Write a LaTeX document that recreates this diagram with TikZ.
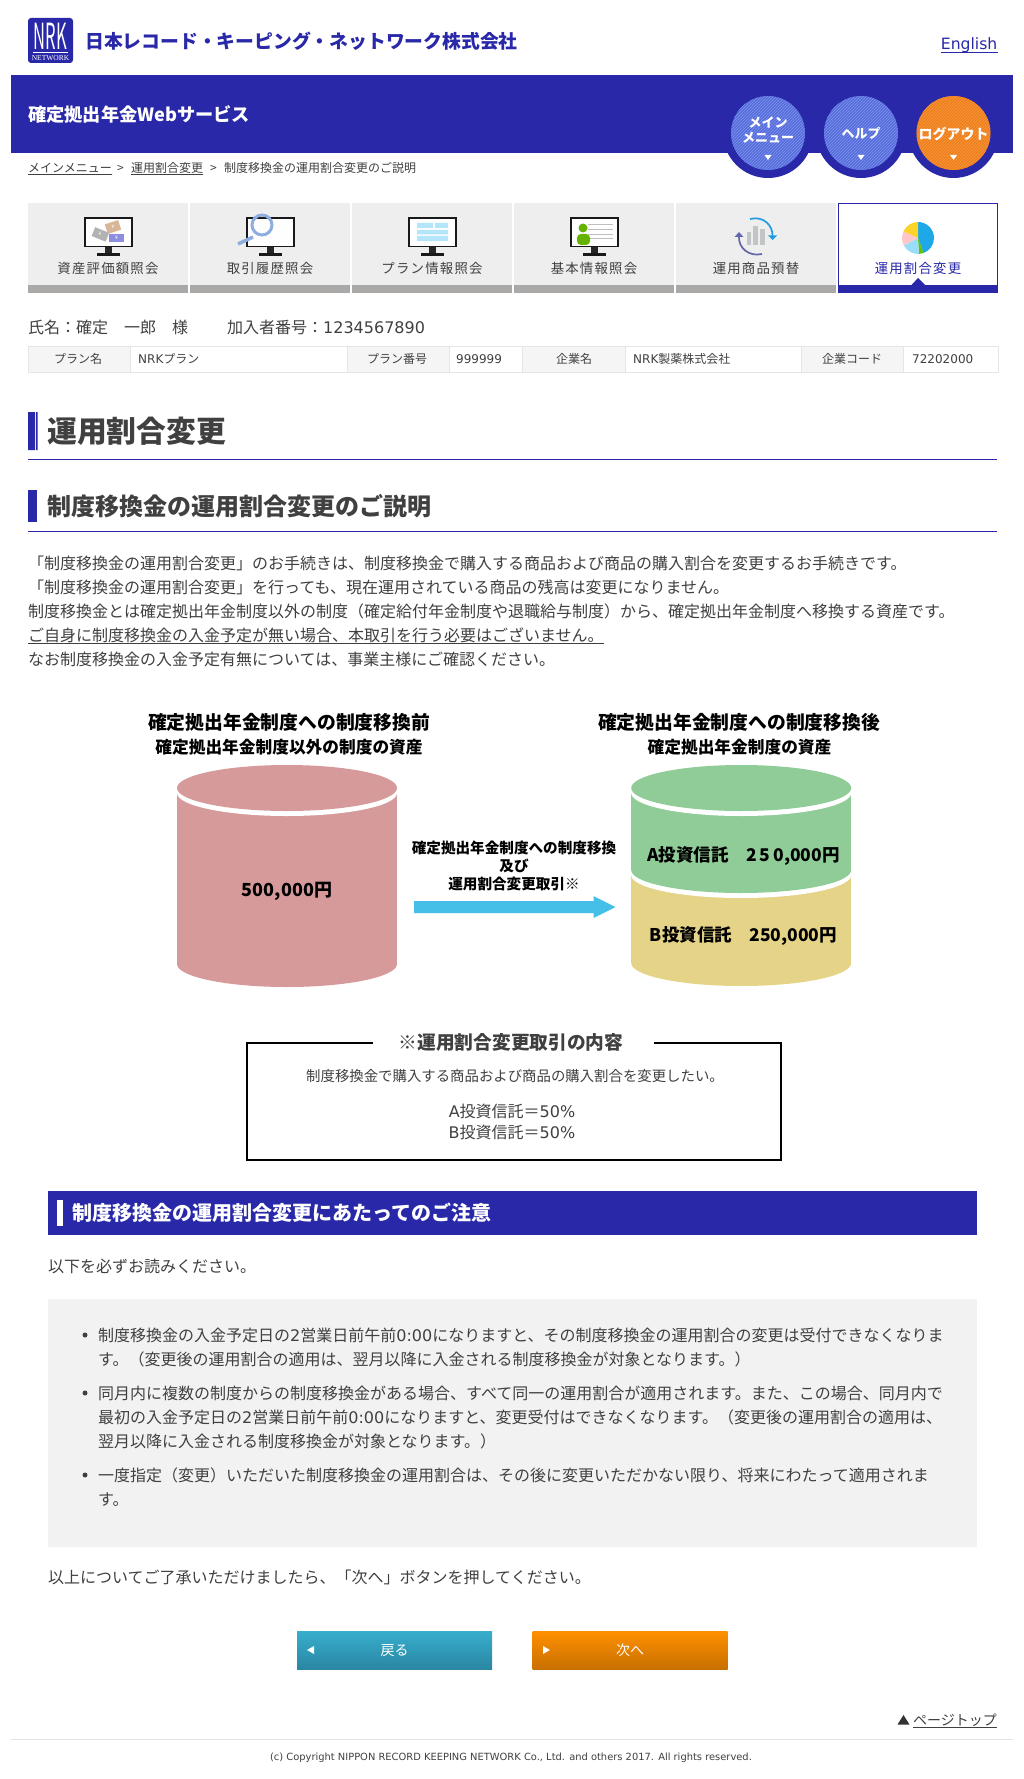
\documentclass[tikz,border=0pt]{standalone}
\usepackage{fontspec}
\setmainfont{Noto Sans CJK JP}
\newfontfamily\serfont{Liberation Serif}
\newfontfamily\latfont{DejaVu Sans}
\newfontfamily\tabfont[LetterSpace=9]{Noto Sans CJK JP}
\usetikzlibrary{patterns}
\definecolor{navy}{HTML}{2828A8}
\definecolor{ink}{HTML}{404040}
\definecolor{tabgray}{HTML}{EEEEEE}
\definecolor{bargray}{HTML}{AAA9A8}
\definecolor{rose}{HTML}{D69A9A}
\definecolor{leaf}{HTML}{90CC97}
\definecolor{straw}{HTML}{E5D488}
\definecolor{sky}{HTML}{45BFE8}
\definecolor{discblue}{HTML}{566CDA}
\definecolor{discblueline}{HTML}{7F93EE}
\definecolor{discorange}{HTML}{EE7E1C}
\definecolor{discorangeline}{HTML}{F89A40}
\definecolor{backtop}{HTML}{36AECC}
\definecolor{backbottom}{HTML}{2A87A3}
\definecolor{nexttop}{HTML}{FF9000}
\definecolor{nextbottom}{HTML}{C87000}
\newcommand{\fs}[1]{\fontsize{#1}{#1}\selectfont\rule[-.12em]{0pt}{1em}}
\newcommand{\latn}[1]{{\latfont #1}}
\tikzset{
    every node/.style={inner sep=0pt, text=ink}
}
\tikzset{
    txt/.style={anchor=west, font=\fs{16}},
    mid/.style={anchor=center, font=\fs{16}},
    cell/.style={anchor=center, font=\fs{12}},
    crumb/.style={anchor=west, font=\fs{12}},
    tablabel/.style={anchor=center, font=\tabfont\fs{13.4}},
    strong/.style={anchor=center, text=black, font=\bfseries\fs{17.5}},
    ulink/.style={line width=.8pt, ink},
    headrule/.style={line width=1pt, navy}
}
\tikzset{
    roundbtn/.style={anchor=center, text=white, font=\bfseries\fs{13}},
    pushbtn/.style={anchor=center, minimum width=195pt, minimum height=38pt, text=white, font=\fs{14}}
}
\begin{document}
\begin{tikzpicture}[x=1pt,y=-1pt]
  \useasboundingbox (0,0) rectangle (1024,1779);
  \fill[white] (0,0) rectangle (1024,1779);
  % header
  \fill[navy, rounded corners=3pt] (28,18) rectangle (73,63);
  \node (nrk) [anchor=center, text=white, font=\fs{36}] at (50.5,36) {\scalebox{.46}[1]{NRK}};
  \draw[white, line width=.5pt] (33,52) -- (68,52);
  \node (network) [anchor=center, text=white, font=\serfont\fs{7.5}] at (50.5,57.5) {NETWORK};
  \node (company) [anchor=west, text=navy, font=\bfseries\fs{18.8}] at (85,41) {日本レコード・キーピング・ネットワーク株式会社};
  \node (english) [anchor=east, text=navy, font=\latfont\fs{15.6}] at (997.5,44) {English};
  \draw[navy, line width=.9pt] (english.south west) -- (english.south east);
  \fill[navy] (11,75) rectangle (1013,153);
  \node (service) [anchor=west, text=white, font=\bfseries\fs{18.2}] at (28,115) {確定拠出年金Webサービス};
  \foreach \cx/\col in {768/discblue,861/discblue,953.5/discorange} {
    \fill[navy] (\cx,133) circle[radius=45];
    \fill[\col] (\cx,133) circle[radius=37];
    \fill[pattern=north east lines, pattern color=\col line] (\cx,133) circle[radius=37];
    \fill[white] (\cx-3.5,155) -- (\cx+3.5,155) -- (\cx,160) -- cycle;
  }
  \node (menu1) [roundbtn] at (768,123) {メイン};
  \node (menu2) [roundbtn] at (768,137.5) {メニュー};
  \node (help) [roundbtn] at (861,134) {ヘルプ};
  \node (logout) [roundbtn, font=\bfseries\fs{14}] at (953.5,134) {ログアウト};
  % breadcrumb
  \node (crumb1) [crumb] at (28,168) {メインメニュー};
  \node (gt1) [crumb] at (117,168) {>};
  \node (crumb2) [crumb] at (131,168) {運用割合変更};
  \node (gt2) [crumb] at (210,168) {>};
  \node (crumb3) [crumb] at (224,168) {制度移換金の運用割合変更のご説明};
  \draw[ulink] (crumb1.south west) -- (crumb1.south east);
  \draw[ulink] (crumb2.south west) -- (crumb2.south east);
  % tabs
  \foreach \x/\lab in {28/資産評価額照会,190/取引履歴照会,352/プラン情報照会,514/基本情報照会,676/運用商品預替} {
    \fill[tabgray] (\x,203) rectangle (\x+160,285);
    \fill[bargray] (\x,285) rectangle (\x+160,293);
    \node (tab\x) [tablabel] at (\x+80,268) {\lab};
  }
  \draw[navy, line width=1.2pt, fill=white] (838.6,203.6) rectangle (997.4,290);
  \fill[navy] (838,285) rectangle (998,293);
  \fill[navy] (911.5,285) -- (918,278) -- (925,285) -- cycle;
  \node (tab838) [tablabel, text=navy] at (918,268) {運用割合変更};
  \foreach \x in {84,246,408,570} {
    \draw[black!90, line width=1.7pt, fill=white!97!tabgray] (\x+1,218) rectangle (\x+48,246.5);
    \fill[black!85] (\x+21,247) rectangle (\x+28,253);
    \fill[black!90] (\x+13,253) rectangle (\x+36,256);
  }
  % tab icons
  \fill[brown!50!tabgray, rotate around={18:(113,227)}] (106,222) rectangle (120,232);
  \fill[black!30, rotate around={-22:(100,234)}] (93,229.5) rectangle (108,239);
  \fill[blue!30!navy!50!white] (109,234) rectangle (124,242);
  \node (yen1) [anchor=center, text=white, font=\fs{5}] at (113,227) {¥};
  \node (yen2) [anchor=center, text=white, font=\fs{5}] at (100,234) {¥};
  \node (yen3) [anchor=center, text=white, font=\fs{5}] at (116.5,238) {¥};
  \draw[cyan!50!blue!45!white, line width=3pt] (262,225) circle[radius=10];
  \draw[cyan!50!blue!45!white, line width=3.5pt] (253,237) -- (238,244);
  \fill[cyan!30!white] (417,223) rectangle (433,228) (435,223) rectangle (448,228) (417,230) rectangle (448,234.5) (417,236) rectangle (448,241);
  \foreach \y in {225,230,235,239} {
    \draw[black!25, line width=1pt] (588,\y) -- (613,\y);
  }
  \fill[green!50!black!60!yellow] (583,228) circle[radius=4.5];
  \fill[green!50!black!60!yellow, rounded corners=4pt] (577,245) -- (577,234) -- (590,234) -- (590,245) -- cycle;
  \foreach \xa/\xb/\ya in {747/751/232,753/758/226,760/765/229} {
    \fill[cyan!10!black!28] (\xa,\ya) rectangle (\xb,245);
  }
  \draw[cyan!80!blue!90!white, line width=1.7pt] (750,219) .. controls (764,215.5) and (773,226) .. (772.5,236);
  \fill[cyan!80!blue!90!white] (768,235.5) -- (777,235.5) -- (772.5,240) -- cycle;
  \draw[black!55!blue!60!white, line width=1.7pt] (762,254) .. controls (749,257) and (738,248) .. (739,236);
  \fill[black!55!blue!60!white] (734.5,237) -- (743.5,237) -- (739,232) -- cycle;
  \foreach \a/\b/\col in {-90/70/cyan!90!blue!90!white,70/87/green!60!black!60!yellow,87/152/cyan!40!white,152/205/red!22!white,205/270/yellow!65!orange!85!white} {
    \fill[\col] (918,238) -- +(\a:16) arc[start angle=\a, end angle=\b, radius=16] -- cycle;
  }
  % member data
  \node (member) [txt] at (28,327) {氏名：確定　一郎　様};
  \node (number) [txt] at (227,327) {加入者番号：\latn{1234567890}};
  \fill[black!4] (28,346) rectangle (998,372);
  \fill[white] (130,347) rectangle (347,372) (449,347) rectangle (522,372) (625,347) rectangle (801,372) (903,347) rectangle (998,372);
  \draw[black!10, line width=1pt] (28,346.5) rectangle (998,372) (130,346) -- (130,372) (347,346) -- (347,372) (449,346) -- (449,372) (522,346) -- (522,372) (625,346) -- (625,372) (801,346) -- (801,372) (903,346) -- (903,372);
  \node (plan) [cell] at (78,359) {プラン名};
  \node (planval) [crumb] at (138,359) {\latn{NRK}プラン};
  \node (planno) [cell] at (397,359) {プラン番号};
  \node (plannoval) [crumb] at (456,359) {\latn{999999}};
  \node (corp) [cell] at (574,359) {企業名};
  \node (corpval) [crumb] at (633,359) {\latn{NRK}製薬株式会社};
  \node (code) [cell] at (852,359) {企業コード};
  \node (codeval) [crumb] at (912,359) {\latn{72202000}};
  % headings
  \fill[navy] (28,412) rectangle (35,450) (36,412) rectangle (37.5,450);
  \node (title) [anchor=west, font=\bfseries\fs{29.8}] at (47,431) {運用割合変更};
  \draw[headrule] (28,459) -- (997,459);
  \fill[navy] (28,490) rectangle (37,522);
  \node (subtitle) [anchor=west, font=\bfseries\fs{24}] at (47,506) {制度移換金の運用割合変更のご説明};
  \draw[headrule] (28,531) -- (997,531);
  % body
  \node (body1) [txt] at (28,563) {「制度移換金の運用割合変更」のお手続きは、制度移換金で購入する商品および商品の購入割合を変更するお手続きです。};
  \node (body2) [txt] at (28,587) {「制度移換金の運用割合変更」を行っても、現在運用されている商品の残高は変更になりません。};
  \node (body3) [txt] at (28,611) {制度移換金とは確定拠出年金制度以外の制度（確定給付年金制度や退職給与制度）から、確定拠出年金制度へ移換する資産です。};
  \node (body4) [txt] at (28,635) {ご自身に制度移換金の入金予定が無い場合、本取引を行う必要はございません。};
  \draw[ink, line width=1pt] (body4.south west) -- (body4.south east);
  \node (body5) [txt] at (28,659) {なお制度移換金の入金予定有無については、事業主様にご確認ください。};
  % cylinders
  \node (before) [strong, font=\bfseries\fs{18.8}] at (289,722) {確定拠出年金制度への制度移換前};
  \node (beforesub) [strong, font=\bfseries\fs{16.7}] at (289,747) {確定拠出年金制度以外の制度の資産};
  \node (after) [strong, font=\bfseries\fs{18.8}] at (739,722) {確定拠出年金制度への制度移換後};
  \node (aftersub) [strong, font=\bfseries\fs{16.7}] at (739.5,747) {確定拠出年金制度の資産};
  \fill[rose] (287,964) ellipse[x radius=110, y radius=23];
  \fill[rose] (177,793) rectangle (397,964);
  \fill[white] (287,793) ellipse[x radius=110, y radius=23];
  \fill[rose] (287,788) ellipse[x radius=110, y radius=23];
  \fill[straw] (739,963) +(2.2,0) ellipse[x radius=110, y radius=23];
  \fill[straw] (631.2,875) rectangle (851.2,963);
  \fill[white] (741.2,875) ellipse[x radius=110, y radius=23];
  \fill[leaf] (741.2,870) ellipse[x radius=110, y radius=23];
  \fill[leaf] (631.2,793) rectangle (851.2,870);
  \fill[white] (741.2,793) ellipse[x radius=110, y radius=23];
  \fill[leaf] (741.2,788) ellipse[x radius=110, y radius=23];
  \node (total) [strong, font=\bfseries\fs{18}] at (287,891) {500,000円};
  \node (fundA) [strong] at (743.5,856) {\textbf{A}投資信託　2\,5\,0,000円};
  \node (fundB) [strong] at (743.5,936) {\textbf{B}投資信託　250,000円};
  \node (move1) [strong, font=\bfseries\fs{14.6}] at (514,848) {確定拠出年金制度への制度移換};
  \node (move2) [strong, font=\bfseries\fs{14.6}] at (514,866) {及び};
  \node (move3) [strong, font=\bfseries\fs{14.6}] at (514,884) {運用割合変更取引※};
  \fill[sky] (414,901) -- (593.5,901) -- (593.5,896) -- (615.5,907) -- (593.5,918) -- (593.5,913) -- (414,913) -- cycle;
  % note box
  \draw[black, line width=2.2pt] (373,1043) -- (247,1043) -- (247,1160) -- (781,1160) -- (781,1043) -- (654,1043);
  \node (notehead) [strong, text=ink, font=\bfseries\fs{18.7}] at (511,1042) {※運用割合変更取引の内容};
  \node (notetext) [mid, font=\fs{14.4}] at (515,1076) {制度移換金で購入する商品および商品の購入割合を変更したい。};
  \node (noteA) [mid] at (512,1111) {\latn{A}投資信託＝\latn{50\%}};
  \node (noteB) [mid] at (512,1132) {\latn{B}投資信託＝\latn{50\%}};
  % caution
  \fill[navy] (48,1191) rectangle (976.5,1235);
  \fill[white] (57,1200) rectangle (63,1226);
  \node (caution) [anchor=west, text=white, font=\bfseries\fs{20}] at (72,1213) {制度移換金の運用割合変更にあたってのご注意};
  \node (readme) [txt] at (48,1266) {以下を必ずお読みください。};
  \fill[black!5] (48,1299) rectangle (976.5,1547);
  \foreach \y in {1335,1393,1475} {
    \fill[ink] (85,\y) circle[radius=2.5];
  }
  \node (item1a) [txt] at (98,1335) {制度移換金の入金予定日の\latn{2}営業日前午前\latn{0:00}になりますと、その制度移換金の運用割合の変更は受付できなくなりま};
  \node (item1b) [txt] at (98,1359) {す。（変更後の運用割合の適用は、翌月以降に入金される制度移換金が対象となります。）};
  \node (item2a) [txt] at (98,1393) {同月内に複数の制度からの制度移換金がある場合、すべて同一の運用割合が適用されます。また、この場合、同月内で};
  \node (item2b) [txt] at (98,1417) {最初の入金予定日の\latn{2}営業日前午前\latn{0:00}になりますと、変更受付はできなくなります。（変更後の運用割合の適用は、};
  \node (item2c) [txt] at (98,1441) {翌月以降に入金される制度移換金が対象となります。）};
  \node (item3a) [txt] at (98,1475) {一度指定（変更）いただいた制度移換金の運用割合は、その後に変更いただかない限り、将来にわたって適用されま};
  \node (item3b) [txt] at (98,1499) {す。};
  \node (closing) [txt] at (48,1577.5) {以上についてご了承いただけましたら、「次へ」ボタンを押してください。};
  % buttons
  \node (back) [pushbtn, top color=backtop, bottom color=backbottom] at (394.5,1650) {戻る};
  \node (next) [pushbtn, top color=nexttop, bottom color=nextbottom] at (630,1650) {次へ};
  \fill[white] (314,1646) -- (314,1654) -- (307,1650) -- cycle;
  \fill[white] (543,1646) -- (543,1654) -- (550,1650) -- cycle;
  % footer
  \node (pagetop) [anchor=east, font=\fs{14}] at (997,1720) {ページトップ};
  \draw[ulink, line width=1pt] (pagetop.south west) -- (pagetop.south east);
  \fill[black!80] (897.5,1724.5) -- (909.5,1724.5) -- (903.5,1715) -- cycle;
  \draw[black!10, line width=1pt] (11,1739) -- (1013,1739);
  \node (copyright) [anchor=center, font=\latfont\fs{9.9}] at (511,1757) {(c) Copyright NIPPON RECORD KEEPING NETWORK Co., Ltd. and others 2017. All rights reserved.};
\end{tikzpicture}
\end{document}
